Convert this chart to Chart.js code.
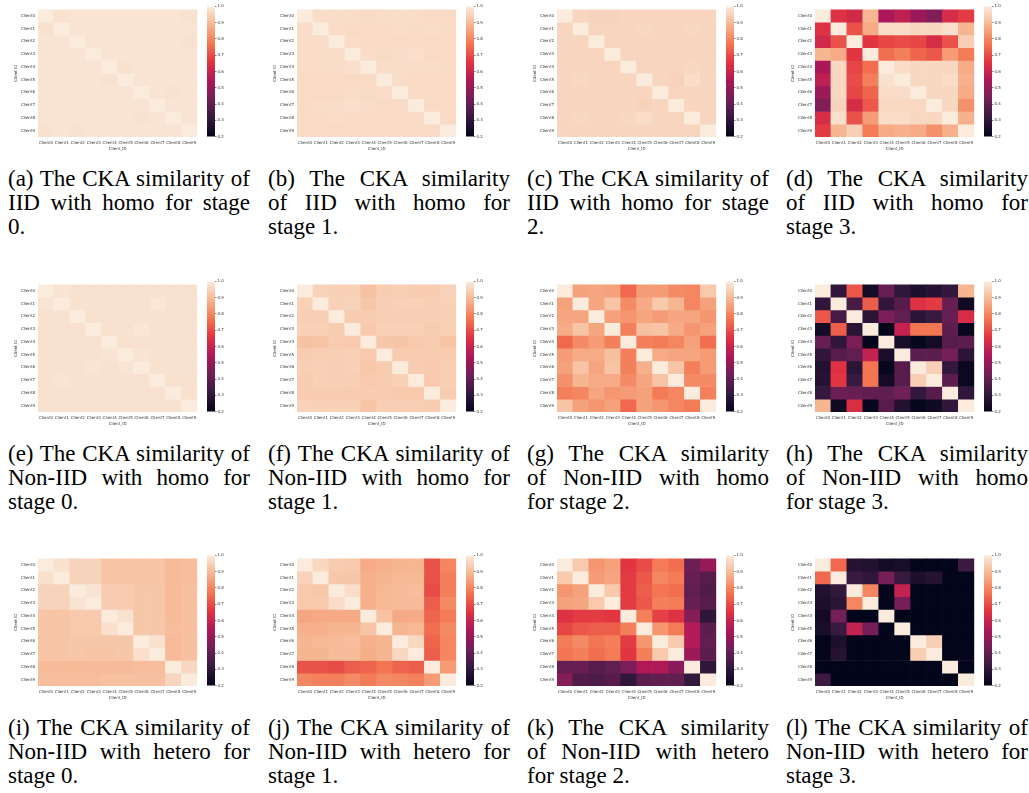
<!DOCTYPE html>
<html>
<head>
<meta charset="utf-8">
<title>CKA similarity</title>
<script src="https://cdn.jsdelivr.net/npm/chart.js@4.4.0/dist/chart.umd.min.js"></script>
<style>
  body { margin: 0; background: #fff; width: 1029px; height: 793px; position: relative; overflow: hidden; }
  canvas { position: absolute; }
  .cap { position: absolute; width: 242px; font-family: "Liberation Serif", "Times New Roman", serif; font-size: 23px; line-height: 24px; color: #000; }
  .cap div { text-align: justify; text-align-last: justify; }
  .cap div.last { text-align: left; text-align-last: left; }
</style>
</head>
<body>
<script>
// ------------------------------ data ------------------------------ //
const clients = ['Client0', 'Client1', 'Client2', 'Client3', 'Client4', 'Client5', 'Client6', 'Client7', 'Client8', 'Client9'];
const cbTicks = [0.2, 0.3, 0.4, 0.5, 0.6, 0.7, 0.8, 0.9, 1.0];

// (a) IID, homo, stage 0
const iidHomo0 = [
  [1.00, 0.98, 0.985, 0.985, 0.985, 0.985, 0.985, 0.985, 0.985, 0.98],
  [0.98, 1.00, 0.985, 0.985, 0.985, 0.985, 0.985, 0.985, 0.985, 0.985],
  [0.985, 0.985, 1.00, 0.985, 0.985, 0.985, 0.985, 0.985, 0.985, 0.98],
  [0.985, 0.985, 0.985, 1.00, 0.985, 0.985, 0.985, 0.985, 0.985, 0.985],
  [0.985, 0.985, 0.985, 0.985, 1.00, 0.98, 0.985, 0.985, 0.985, 0.985],
  [0.985, 0.985, 0.985, 0.985, 0.98, 1.00, 0.985, 0.985, 0.985, 0.985],
  [0.985, 0.985, 0.985, 0.985, 0.985, 0.985, 1.00, 0.985, 0.98, 0.985],
  [0.985, 0.985, 0.985, 0.985, 0.985, 0.985, 0.985, 1.00, 0.985, 0.985],
  [0.985, 0.985, 0.985, 0.985, 0.985, 0.985, 0.98, 0.985, 1.00, 0.985],
  [0.98, 0.985, 0.98, 0.985, 0.985, 0.985, 0.985, 0.985, 0.985, 1.00]
];
// (b) IID, homo, stage 1
const iidHomo1 = [
  [1.00, 0.97, 0.97, 0.97, 0.965, 0.97, 0.97, 0.97, 0.965, 0.965],
  [0.97, 1.00, 0.97, 0.965, 0.965, 0.965, 0.97, 0.965, 0.97, 0.965],
  [0.97, 0.97, 1.00, 0.97, 0.965, 0.965, 0.965, 0.965, 0.965, 0.965],
  [0.97, 0.97, 0.97, 1.00, 0.97, 0.965, 0.97, 0.975, 0.965, 0.965],
  [0.97, 0.97, 0.97, 0.975, 1.00, 0.97, 0.97, 0.97, 0.97, 0.965],
  [0.965, 0.965, 0.965, 0.965, 0.965, 1.00, 0.97, 0.965, 0.965, 0.965],
  [0.965, 0.965, 0.965, 0.97, 0.965, 0.97, 1.00, 0.965, 0.965, 0.965],
  [0.965, 0.97, 0.97, 0.975, 0.97, 0.965, 0.965, 1.00, 0.965, 0.965],
  [0.965, 0.965, 0.97, 0.965, 0.965, 0.965, 0.965, 0.965, 1.00, 0.965],
  [0.965, 0.965, 0.965, 0.965, 0.965, 0.965, 0.965, 0.965, 0.965, 1.00]
];
// (c) IID, homo, stage 2
const iidHomo2 = [
  [1.00, 0.955, 0.95, 0.95, 0.955, 0.955, 0.955, 0.955, 0.955, 0.955],
  [0.955, 1.00, 0.955, 0.955, 0.955, 0.96, 0.955, 0.955, 0.96, 0.955],
  [0.955, 0.955, 1.00, 0.955, 0.955, 0.955, 0.955, 0.955, 0.955, 0.955],
  [0.955, 0.955, 0.955, 1.00, 0.955, 0.955, 0.955, 0.955, 0.955, 0.955],
  [0.955, 0.955, 0.955, 0.955, 1.00, 0.955, 0.955, 0.955, 0.96, 0.955],
  [0.955, 0.96, 0.955, 0.955, 0.955, 1.00, 0.955, 0.95, 0.97, 0.955],
  [0.955, 0.955, 0.955, 0.955, 0.955, 0.955, 1.00, 0.955, 0.955, 0.955],
  [0.955, 0.955, 0.955, 0.955, 0.955, 0.95, 0.955, 1.00, 0.955, 0.955],
  [0.955, 0.96, 0.955, 0.955, 0.96, 0.97, 0.955, 0.955, 1.00, 0.955],
  [0.955, 0.955, 0.955, 0.955, 0.955, 0.955, 0.955, 0.955, 0.955, 1.00]
];
// (d) IID, homo, stage 3
const iidHomo3 = [
  [1.00, 0.65, 0.62, 0.89, 0.54, 0.58, 0.51, 0.46, 0.63, 0.67],
  [0.65, 1.00, 0.71, 0.87, 0.97, 0.97, 0.96, 0.96, 0.975, 0.89],
  [0.62, 0.71, 1.00, 0.66, 0.69, 0.70, 0.69, 0.63, 0.71, 0.94],
  [0.89, 0.87, 0.66, 1.00, 0.76, 0.79, 0.74, 0.72, 0.84, 0.78],
  [0.54, 0.96, 0.69, 0.76, 1.00, 0.97, 0.96, 0.96, 0.96, 0.87],
  [0.58, 0.96, 0.70, 0.79, 0.98, 1.00, 0.96, 0.96, 0.97, 0.88],
  [0.51, 0.96, 0.69, 0.74, 0.97, 0.97, 1.00, 0.96, 0.96, 0.87],
  [0.46, 0.95, 0.63, 0.72, 0.96, 0.96, 0.96, 1.00, 0.96, 0.82],
  [0.63, 0.975, 0.71, 0.84, 0.97, 0.97, 0.96, 0.96, 1.00, 0.88],
  [0.67, 0.89, 0.94, 0.78, 0.87, 0.88, 0.87, 0.82, 0.88, 1.00]
];
// (e) Non-IID, homo, stage 0
const nonIidHomo0 = [
  [1.00, 0.985, 0.98, 0.98, 0.98, 0.98, 0.98, 0.98, 0.98, 0.98],
  [0.985, 1.00, 0.98, 0.98, 0.98, 0.98, 0.98, 0.99, 0.98, 0.98],
  [0.98, 0.98, 1.00, 0.98, 0.98, 0.98, 0.98, 0.98, 0.98, 0.98],
  [0.98, 0.98, 0.98, 1.00, 0.98, 0.98, 0.99, 0.98, 0.98, 0.98],
  [0.98, 0.98, 0.98, 0.98, 1.00, 0.98, 0.98, 0.98, 0.98, 0.98],
  [0.98, 0.98, 0.98, 0.98, 0.985, 1.00, 0.985, 0.98, 0.98, 0.98],
  [0.98, 0.98, 0.98, 0.985, 0.98, 0.985, 1.00, 0.98, 0.98, 0.98],
  [0.98, 0.985, 0.98, 0.98, 0.98, 0.98, 0.98, 1.00, 0.98, 0.98],
  [0.98, 0.98, 0.98, 0.98, 0.98, 0.98, 0.98, 0.98, 1.00, 0.98],
  [0.98, 0.98, 0.98, 0.98, 0.98, 0.98, 0.98, 0.98, 0.98, 1.00]
];
// (f) Non-IID, homo, stage 1
const nonIidHomo1 = [
  [1.00, 0.95, 0.945, 0.945, 0.915, 0.935, 0.94, 0.935, 0.935, 0.95],
  [0.945, 1.00, 0.945, 0.95, 0.925, 0.94, 0.945, 0.945, 0.94, 0.945],
  [0.94, 0.94, 1.00, 0.935, 0.935, 0.94, 0.94, 0.94, 0.94, 0.945],
  [0.945, 0.945, 0.935, 1.00, 0.93, 0.945, 0.945, 0.945, 0.935, 0.945],
  [0.915, 0.92, 0.935, 0.93, 1.00, 0.925, 0.92, 0.93, 0.935, 0.92],
  [0.935, 0.94, 0.94, 0.945, 0.93, 1.00, 0.935, 0.935, 0.935, 0.935],
  [0.94, 0.945, 0.94, 0.945, 0.925, 0.935, 1.00, 0.935, 0.93, 0.94],
  [0.935, 0.945, 0.94, 0.94, 0.93, 0.935, 0.945, 1.00, 0.93, 0.94],
  [0.935, 0.935, 0.935, 0.935, 0.935, 0.935, 0.93, 0.93, 1.00, 0.935],
  [0.95, 0.945, 0.945, 0.945, 0.92, 0.94, 0.94, 0.94, 0.935, 1.00]
];
// (g) Non-IID, homo, stage 2
const nonIidHomo2 = [
  [1.00, 0.85, 0.86, 0.85, 0.75, 0.84, 0.84, 0.81, 0.80, 0.93],
  [0.85, 1.00, 0.86, 0.92, 0.81, 0.87, 0.93, 0.89, 0.80, 0.85],
  [0.86, 0.86, 1.00, 0.85, 0.83, 0.86, 0.84, 0.86, 0.86, 0.83],
  [0.87, 0.92, 0.86, 1.00, 0.79, 0.91, 0.92, 0.87, 0.83, 0.85],
  [0.75, 0.81, 0.84, 0.79, 1.00, 0.79, 0.78, 0.80, 0.85, 0.76],
  [0.84, 0.87, 0.87, 0.91, 0.79, 1.00, 0.87, 0.86, 0.86, 0.84],
  [0.85, 0.92, 0.86, 0.92, 0.79, 0.88, 1.00, 0.92, 0.79, 0.84],
  [0.82, 0.89, 0.87, 0.87, 0.81, 0.86, 0.92, 1.00, 0.81, 0.81],
  [0.79, 0.80, 0.86, 0.83, 0.84, 0.85, 0.78, 0.80, 1.00, 0.79],
  [0.92, 0.85, 0.83, 0.85, 0.75, 0.85, 0.83, 0.80, 0.78, 1.00]
];
// (h) Non-IID, homo, stage 3
const nonIidHomo3 = [
  [1.00, 0.30, 0.72, 0.24, 0.41, 0.30, 0.26, 0.28, 0.31, 0.89],
  [0.30, 1.00, 0.35, 0.73, 0.30, 0.38, 0.65, 0.67, 0.41, 0.23],
  [0.72, 0.35, 1.00, 0.29, 0.45, 0.40, 0.29, 0.32, 0.41, 0.63],
  [0.24, 0.73, 0.29, 1.00, 0.20, 0.59, 0.77, 0.77, 0.39, 0.21],
  [0.41, 0.30, 0.45, 0.20, 1.00, 0.25, 0.21, 0.24, 0.38, 0.39],
  [0.30, 0.38, 0.40, 0.59, 0.25, 1.00, 0.39, 0.39, 0.44, 0.29],
  [0.27, 0.65, 0.29, 0.77, 0.21, 0.38, 1.00, 0.94, 0.31, 0.22],
  [0.28, 0.66, 0.32, 0.77, 0.24, 0.38, 0.94, 1.00, 0.39, 0.22],
  [0.31, 0.42, 0.41, 0.40, 0.40, 0.43, 0.31, 0.38, 1.00, 0.30],
  [0.89, 0.23, 0.64, 0.21, 0.38, 0.27, 0.21, 0.23, 0.30, 1.00]
];
// (i) Non-IID, hetero, stage 0
const nonIidHetero0 = [
  [1.00, 0.98, 0.95, 0.95, 0.92, 0.92, 0.92, 0.92, 0.90, 0.905],
  [0.975, 1.00, 0.95, 0.95, 0.92, 0.92, 0.92, 0.92, 0.90, 0.905],
  [0.95, 0.95, 1.00, 0.985, 0.935, 0.935, 0.925, 0.925, 0.90, 0.91],
  [0.95, 0.95, 0.985, 1.00, 0.935, 0.935, 0.925, 0.925, 0.90, 0.91],
  [0.92, 0.92, 0.93, 0.93, 1.00, 0.98, 0.925, 0.925, 0.90, 0.91],
  [0.92, 0.92, 0.93, 0.93, 0.975, 1.00, 0.925, 0.925, 0.905, 0.91],
  [0.92, 0.92, 0.925, 0.925, 0.925, 0.925, 1.00, 0.98, 0.90, 0.91],
  [0.92, 0.92, 0.925, 0.92, 0.92, 0.925, 0.975, 1.00, 0.90, 0.91],
  [0.90, 0.90, 0.90, 0.90, 0.90, 0.90, 0.905, 0.905, 1.00, 0.96],
  [0.905, 0.905, 0.905, 0.905, 0.91, 0.91, 0.91, 0.91, 0.955, 1.00]
];
// (j) Non-IID, hetero, stage 1
const nonIidHetero1 = [
  [1.00, 0.96, 0.935, 0.93, 0.87, 0.88, 0.89, 0.89, 0.71, 0.80],
  [0.95, 1.00, 0.925, 0.925, 0.88, 0.89, 0.895, 0.895, 0.71, 0.79],
  [0.93, 0.925, 1.00, 0.97, 0.88, 0.895, 0.90, 0.905, 0.70, 0.79],
  [0.93, 0.93, 0.97, 1.00, 0.88, 0.895, 0.90, 0.90, 0.73, 0.81],
  [0.86, 0.865, 0.87, 0.87, 1.00, 0.915, 0.865, 0.87, 0.74, 0.78],
  [0.88, 0.88, 0.89, 0.89, 0.92, 1.00, 0.89, 0.895, 0.76, 0.81],
  [0.89, 0.895, 0.90, 0.905, 0.88, 0.89, 1.00, 0.96, 0.74, 0.80],
  [0.885, 0.89, 0.90, 0.90, 0.875, 0.89, 0.96, 1.00, 0.73, 0.80],
  [0.71, 0.71, 0.70, 0.73, 0.74, 0.77, 0.74, 0.73, 1.00, 0.84],
  [0.80, 0.79, 0.79, 0.81, 0.78, 0.81, 0.80, 0.79, 0.84, 1.00]
];
// (k) Non-IID, hetero, stage 2
const nonIidHetero2 = [
  [1.00, 0.93, 0.83, 0.85, 0.66, 0.70, 0.78, 0.76, 0.42, 0.50],
  [0.93, 1.00, 0.84, 0.86, 0.67, 0.72, 0.80, 0.78, 0.41, 0.38],
  [0.83, 0.85, 1.00, 0.93, 0.67, 0.73, 0.77, 0.76, 0.40, 0.37],
  [0.85, 0.86, 0.93, 1.00, 0.67, 0.72, 0.79, 0.78, 0.41, 0.38],
  [0.65, 0.67, 0.67, 0.66, 1.00, 0.79, 0.68, 0.65, 0.47, 0.30],
  [0.69, 0.72, 0.73, 0.73, 0.79, 1.00, 0.83, 0.78, 0.56, 0.39],
  [0.78, 0.81, 0.77, 0.79, 0.67, 0.83, 1.00, 0.93, 0.56, 0.40],
  [0.77, 0.79, 0.76, 0.78, 0.66, 0.79, 0.93, 1.00, 0.51, 0.39],
  [0.41, 0.41, 0.38, 0.40, 0.45, 0.55, 0.55, 0.48, 1.00, 0.30],
  [0.47, 0.37, 0.36, 0.38, 0.30, 0.39, 0.40, 0.40, 0.31, 1.00]
];
// (l) Non-IID, hetero, stage 3
const nonIidHetero3 = [
  [1.00, 0.75, 0.28, 0.27, 0.24, 0.25, 0.20, 0.20, 0.20, 0.33],
  [0.75, 1.00, 0.32, 0.30, 0.44, 0.32, 0.26, 0.28, 0.20, 0.20],
  [0.27, 0.31, 1.00, 0.80, 0.20, 0.59, 0.20, 0.20, 0.20, 0.20],
  [0.26, 0.29, 0.80, 1.00, 0.20, 0.44, 0.20, 0.20, 0.20, 0.20],
  [0.24, 0.44, 0.20, 0.20, 1.00, 0.20, 0.20, 0.20, 0.20, 0.20],
  [0.25, 0.32, 0.59, 0.44, 0.20, 1.00, 0.20, 0.20, 0.20, 0.20],
  [0.20, 0.26, 0.20, 0.20, 0.20, 0.20, 1.00, 0.94, 0.20, 0.20],
  [0.20, 0.28, 0.20, 0.20, 0.20, 0.20, 0.94, 1.00, 0.20, 0.20],
  [0.20, 0.20, 0.20, 0.20, 0.20, 0.20, 0.20, 0.20, 1.00, 0.20],
  [0.33, 0.20, 0.20, 0.20, 0.20, 0.20, 0.20, 0.20, 0.20, 1.00]
];

const captions = [
  ['(a) The CKA similarity of', 'IID with homo for stage', '0.'],
  ['(b) The CKA similarity', 'of IID with homo for', 'stage 1.'],
  ['(c) The CKA similarity of', 'IID with homo for stage', '2.'],
  ['(d) The CKA similarity', 'of IID with homo for', 'stage 3.'],
  ['(e) The CKA similarity of', 'Non-IID with homo for', 'stage 0.'],
  ['(f) The CKA similarity of', 'Non-IID with homo for', 'stage 1.'],
  ['(g) The CKA similarity', 'of Non-IID with homo', 'for stage 2.'],
  ['(h) The CKA similarity', 'of Non-IID with homo', 'for stage 3.'],
  ['(i) The CKA similarity of', 'Non-IID with hetero for', 'stage 0.'],
  ['(j) The CKA similarity of', 'Non-IID with hetero for', 'stage 1.'],
  ['(k) The CKA similarity', 'of Non-IID with hetero', 'for stage 2.'],
  ['(l) The CKA similarity of', 'Non-IID with hetero for', 'stage 3.']
];

const matrices = [iidHomo0, iidHomo1, iidHomo2, iidHomo3,
                  nonIidHomo0, nonIidHomo1, nonIidHomo2, nonIidHomo3,
                  nonIidHetero0, nonIidHetero1, nonIidHetero2, nonIidHetero3];

// ------------------------------ layout / style ------------------------------ //
const heatLefts = [38, 297, 557, 815];
const heatTops = [6, 281, 555];
const capLefts = [8, 268, 527, 786];
const capTops = [167, 442, 716];
const HEAT_W = 160, HEAT_H = 131;
const AX_LEFT = 30, AX_BOTTOM = 16;
const textColor = '#333';
const tickFont = { family: 'DejaVu Sans', size: 4 };

// seaborn "rocket"
const rocket = [
  [0, [3, 5, 26]], [1 / 7, [53, 25, 62]], [2 / 7, [112, 31, 87]], [3 / 7, [173, 23, 89]],
  [4 / 7, [225, 51, 66]], [5 / 7, [243, 118, 81]], [6 / 7, [246, 180, 143]], [1, [250, 235, 221]]
];
const vMin = 0.2, vMax = 1.0;

function rocketColor(t) {
    t = Math.max(0, Math.min(1, t));
    for (let i = 1; i < rocket.length; i++) {
        if (t <= rocket[i][0]) {
            const [t0, c0] = rocket[i - 1];
            const [t1, c1] = rocket[i];
            const f = (t - t0) / (t1 - t0);
            const c = c0.map((v, k) => Math.round(v + (c1[k] - v) * f));
            return 'rgb(' + c.join(',') + ')';
        }
    }
    return 'rgb(250,235,221)';
}
const colorFor = v => rocketColor((v - vMin) / (vMax - vMin));

// ------------------------------ heatmap ------------------------------ //
function makeHeatmap(matrix, left, top) {
    const cv = document.createElement('canvas');
    cv.width = AX_LEFT + HEAT_W + 2;
    cv.height = 2 + HEAT_H + AX_BOTTOM;
    cv.style.left = (left - AX_LEFT) + 'px';
    cv.style.top = (top - 2) + 'px';
    document.body.appendChild(cv);

    // one stacked dataset per row, each cell one unit tall
    const datasets = matrix.map((row, r) => ({
        label: clients[r],
        data: row.map(() => 1),
        backgroundColor: row.map(colorFor),
        borderWidth: 0,
        barPercentage: 1,
        categoryPercentage: 1
    }));

    new Chart(cv, {
        type: 'bar',
        data: { labels: clients, datasets: datasets },
        options: {
            responsive: false,
            animation: false,
            layout: { padding: { top: 2, right: 2, left: 0, bottom: 0 } },
            plugins: { legend: { display: false }, tooltip: { enabled: false } },
            scales: {
                x: {
                    stacked: true,
                    grid: { display: false, drawTicks: false },
                    border: { display: false },
                    ticks: { font: tickFont, color: textColor, padding: 3.5, maxRotation: 0, autoSkip: false },
                    title: { display: true, text: 'Client_ID', font: tickFont, color: textColor, padding: { top: 0, bottom: 1.3 } },
                    afterFit: s => { s.height = AX_BOTTOM; }
                },
                y: {
                    type: 'linear',
                    stacked: true,
                    reverse: true,
                    min: 0,
                    max: clients.length,
                    afterBuildTicks: s => { s.ticks = clients.map((_, i) => ({ value: i + 0.5 })); },
                    grid: { display: false, drawTicks: false },
                    border: { display: false },
                    ticks: {
                        font: tickFont, color: textColor, padding: 3, autoSkip: false,
                        callback: v => clients[Math.round(v - 0.5)]
                    },
                    title: { display: true, text: 'Client ID', font: tickFont, color: textColor, padding: { top: 5.5, bottom: 0 } },
                    afterFit: s => { s.width = AX_LEFT; }
                }
            }
        }
    });
}

// ------------------------------ colorbar ------------------------------ //
function makeColorbar(left, top) {
    const cv = document.createElement('canvas');
    cv.width = 8 + 16;
    cv.height = HEAT_H + 6;
    cv.style.left = left + 'px';
    cv.style.top = (top - 3) + 'px';
    document.body.appendChild(cv);

    new Chart(cv, {
        type: 'bar',
        data: {
            labels: [''],
            datasets: [{
                data: [[vMin, vMax]],
                borderWidth: 0,
                barPercentage: 1,
                categoryPercentage: 1,
                backgroundColor: ctx => {
                    const chart = ctx.chart;
                    const ys = chart.scales.y;
                    if (!ys || !chart.chartArea) return '#f37651';
                    const g = chart.ctx.createLinearGradient(0, ys.getPixelForValue(vMin), 0, ys.getPixelForValue(vMax));
                    rocket.forEach(([t, c]) => g.addColorStop(t, 'rgb(' + c.join(',') + ')'));
                    return g;
                }
            }]
        },
        options: {
            responsive: false,
            animation: false,
            layout: { padding: { top: 3, bottom: 3, left: 0, right: 0 } },
            plugins: { legend: { display: false }, tooltip: { enabled: false } },
            scales: {
                x: { display: false },
                y: {
                    position: 'right',
                    min: vMin,
                    max: vMax,
                    afterBuildTicks: s => { s.ticks = cbTicks.map(v => ({ value: v })); },
                    grid: { drawOnChartArea: false, drawTicks: true, tickLength: 1.5, color: textColor, lineWidth: 0.6 },
                    border: { display: false },
                    ticks: { font: tickFont, color: textColor, padding: 1, callback: v => v.toFixed(1) },
                    afterFit: s => { s.width = 16; }
                }
            }
        }
    });
}

// ------------------------------ captions ------------------------------ //
function makeCaption(lines, left, top) {
    const box = document.createElement('div');
    box.className = 'cap';
    box.style.left = left + 'px';
    box.style.top = top + 'px';
    lines.forEach((txt, i) => {
        const line = document.createElement('div');
        if (i === lines.length - 1) line.className = 'last';
        line.textContent = txt;
        box.appendChild(line);
    });
    document.body.appendChild(box);
}

matrices.forEach((m, i) => {
    const col = i % 4, row = Math.floor(i / 4);
    makeHeatmap(m, heatLefts[col], heatTops[row]);
    makeColorbar(heatLefts[col] + 169, heatTops[row]);
    makeCaption(captions[i], capLefts[col], capTops[row]);
});
</script>
</body>
</html>
